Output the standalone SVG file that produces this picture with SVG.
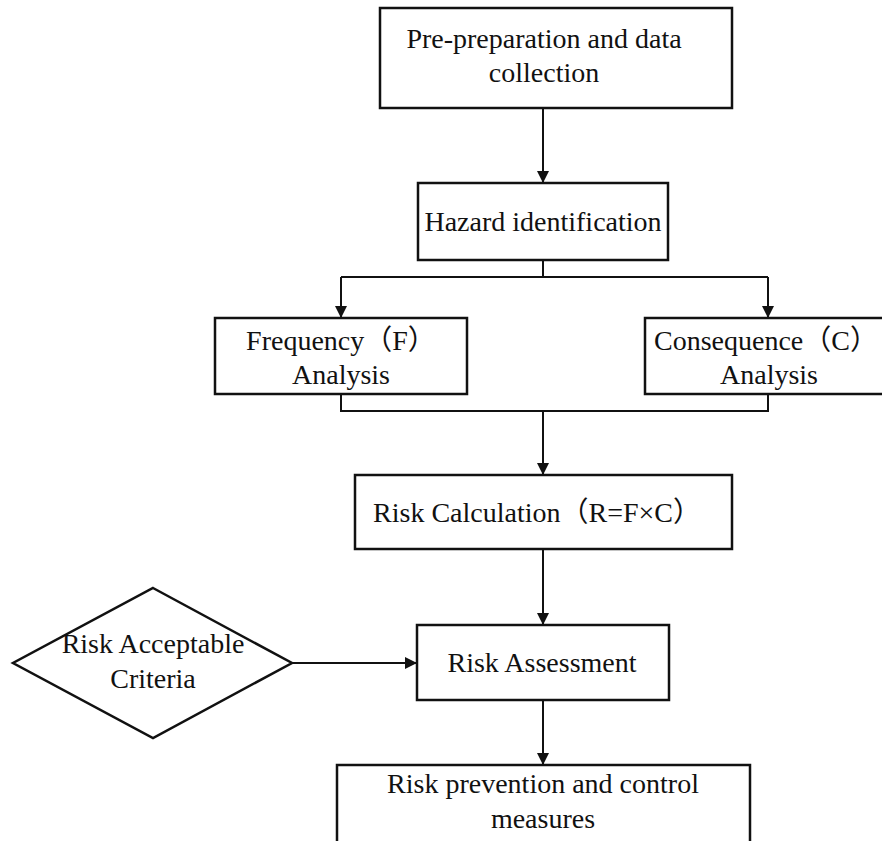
<svg xmlns="http://www.w3.org/2000/svg" width="882" height="841" viewBox="0 0 882 841">
<style>
.box{fill:#fff;stroke:#111;stroke-width:2.5}
.t{font-family:'Liberation Serif','Noto Sans CJK SC',serif;font-size:28px;fill:#111;text-anchor:middle}
.c{fill:none;stroke:#111;stroke-width:2}
</style>
<defs>
<marker id="ah" markerWidth="12" markerHeight="12" viewBox="0 0 12 12" refX="12" refY="6" orient="auto" markerUnits="userSpaceOnUse">
<path d="M0,0 L12,6 L0,12 Z" fill="#111"/>
</marker>
</defs>
<rect width="882" height="841" fill="#fff"/>
<g id="connectors">
<path class="c" d="M543,108 V183" marker-end="url(#ah)"/>
<path class="c" d="M543,260 V277 M341,277 H768"/>
<path class="c" d="M341,277 V318" marker-end="url(#ah)"/>
<path class="c" d="M768,277 V318" marker-end="url(#ah)"/>
<path class="c" d="M341,394 V411 H768 V394"/>
<path class="c" d="M543,411 V475" marker-end="url(#ah)"/>
<path class="c" d="M543,549 V625" marker-end="url(#ah)"/>
<path class="c" d="M292,663 H417" marker-end="url(#ah)"/>
<path class="c" d="M543,700 V765" marker-end="url(#ah)"/>
</g>
<g id="n1">
<rect class="box" x="380" y="8" width="352" height="100"/>
<text class="t" x="544" y="48">Pre-preparation and data</text>
<text class="t" x="544" y="82">collection</text>
</g>
<g id="n2">
<rect class="box" x="418" y="183" width="250" height="77"/>
<text class="t" x="543" y="231">Hazard identification</text>
</g>
<g id="n3">
<rect class="box" x="215" y="318" width="252" height="76"/>
<text class="t" x="341" y="350">Frequency（F）</text>
<text class="t" x="341" y="384">Analysis</text>
</g>
<g id="n4">
<rect class="box" x="645" y="318" width="242" height="76"/>
<text class="t" x="766" y="350">Consequence（C）</text>
<text class="t" x="769" y="384">Analysis</text>
</g>
<g id="n5">
<rect class="box" x="355" y="475" width="377" height="74"/>
<text class="t" x="537" y="522">Risk Calculation（R=F×C）</text>
</g>
<g id="n6">
<rect class="box" x="417" y="625" width="252" height="75"/>
<text class="t" x="542" y="672">Risk Assessment</text>
</g>
<g id="n7">
<polygon class="box" points="153,588 292,663 153,738 13,663"/>
<text class="t" x="153" y="653">Risk Acceptable</text>
<text class="t" x="153" y="688">Criteria</text>
</g>
<g id="n8">
<rect class="box" x="337" y="765" width="413" height="90"/>
<text class="t" x="543" y="793">Risk prevention and control</text>
<text class="t" x="543" y="828">measures</text>
</g>
</svg>
